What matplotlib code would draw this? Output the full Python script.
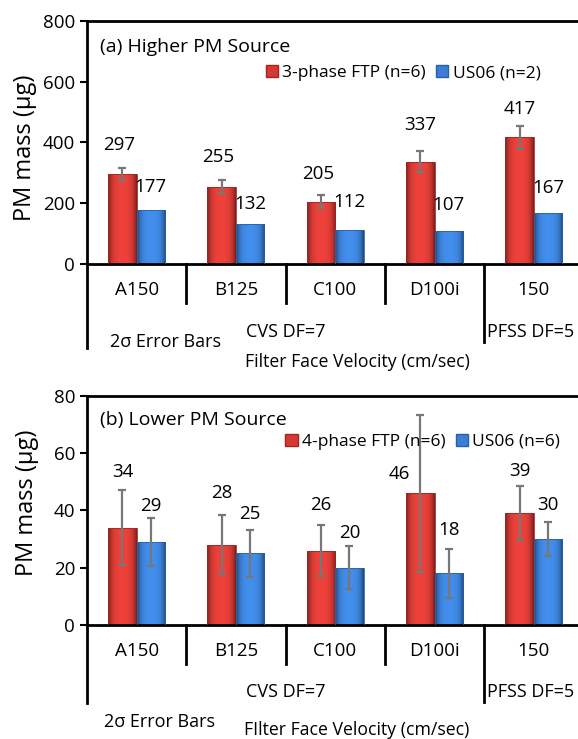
import matplotlib
matplotlib.use("Agg")
import matplotlib.pyplot as plt
import matplotlib.transforms as mtransforms
from matplotlib.patches import Patch
import numpy as np

plt.rcParams['font.family'] = ['Open Sans', 'DejaVu Sans']

categories = ['A150', 'B125', 'C100', 'D100i', '150']

# (a) higher PM source
ftp3_mass = [297, 255, 205, 337, 417]
ftp3_err = [20, 22, 22, 35, 38]
us06_a_mass = [177, 132, 112, 107, 167]

# (b) lower PM source
ftp4_mass = [34, 28, 26, 46, 39]
ftp4_err = [13, 10.3, 8.9, 27.4, 9.4]
us06_b_mass = [29, 25, 20, 18, 30]
us06_b_err = [8.5, 8.3, 7.5, 8.6, 5.8]

RED = '#d43a34'
BLUE = '#3b7fd4'


def shade(bars, base):
    # fake the Excel 3-D look with a horizontal gradient clipped to each bar
    rgb = np.array(matplotlib.colors.to_rgb(base))
    t = np.linspace(-1, 1, 64)
    k = 1 - 0.45 * t**4 + 0.12 * (1 - t**2)
    grad = np.clip(rgb[None, :] * k[:, None], 0, 1)[None, :, :]
    for b in bars:
        x0, y0 = b.get_x(), b.get_y()
        w, h = b.get_width(), b.get_height()
        im = b.axes.imshow(grad, extent=[x0, x0 + w, y0, y0 + h],
                           aspect='auto', zorder=2, interpolation='bilinear')
        im.set_clip_path(b)
        b.set_facecolor('none')


def panel(ax, a_vals, a_err, b_vals, b_err, ymax, a_name, b_name, title,
          a_off, b_off, a_dx, legend_xy, y_lo, xl_text, xl_y, eb_x, eb_y):
    x = np.arange(len(categories)) + 0.5
    w = 0.287
    ek = dict(ecolor='#777777', elinewidth=1.6, capsize=3, capthick=1.6)
    b1 = ax.bar(x - w / 2, a_vals, w, color=RED, edgecolor='#a82420', lw=0.6,
                yerr=a_err, error_kw=ek, zorder=3)
    b2 = ax.bar(x + w / 2, b_vals, w, color=BLUE, edgecolor='#2760a8', lw=0.6,
                yerr=b_err, error_kw=ek, zorder=3)
    shade(b1, RED)
    shade(b2, BLUE)

    for i in range(len(categories)):
        ax.annotate(str(a_vals[i]), (x[i] - w / 2, a_vals[i]), xytext=(a_dx[i], a_off[i]),
                    textcoords='offset pixels', ha='center', va='center', fontsize=13.5)
        ax.annotate(str(b_vals[i]), (x[i] + w / 2, b_vals[i]), xytext=(0, b_off[i]),
                    textcoords='offset pixels', ha='center', va='center', fontsize=13.5)

    ax.set_xlim(0, 4.945)
    ax.set_ylim(0, ymax)
    ax.set_yticks(np.linspace(0, ymax, 5))
    ax.set_xticks([])
    ax.tick_params(axis='y', labelsize=13.5, width=1.5, length=5, direction='out')
    for s in ['left', 'top', 'bottom']:
        ax.spines[s].set_linewidth(2)
    ax.spines['right'].set_visible(False)

    ax.text(0.026, 0.895, title, transform=ax.transAxes, fontsize=14, va='center')
    handles = [Patch(facecolor=RED, edgecolor='#a82420', label=a_name),
               Patch(facecolor=BLUE, edgecolor='#2760a8', label=b_name)]
    ax.legend(handles=handles, loc='center left', bbox_to_anchor=legend_xy, ncol=2,
              frameon=False, fontsize=12.5, handlelength=0.7, handleheight=0.7,
              handletextpad=0.25, columnspacing=0.6, borderaxespad=0)

    tr = mtransforms.blended_transform_factory(ax.transData, ax.transAxes)
    lk = dict(color='black', lw=2, transform=tr, clip_on=False)
    ax.plot([0, 0], [0, y_lo[0]], **lk)
    for sep in [1, 2, 3]:
        ax.plot([sep, sep], [0, y_lo[1]], **lk)
    ax.plot([4, 4], [0, y_lo[2]], **lk)
    for i, c in enumerate(categories):
        ax.text(x[i], y_lo[3], c, transform=tr, ha='center', va='center', fontsize=13.5)
    ax.text(2.0, y_lo[4], 'CVS DF=7', transform=tr, ha='center', va='center', fontsize=13)
    ax.text(4.47, y_lo[4], 'PFSS DF=5', transform=tr, ha='center', va='center', fontsize=13)
    ax.text(eb_x, eb_y, '2σ Error Bars', transform=tr, ha='center', va='center', fontsize=13)
    ax.text(2.72, xl_y, xl_text, transform=tr, ha='center', va='center', fontsize=12.7)


fig = plt.figure(figsize=(5.78, 7.39), dpi=100)
ax1 = fig.add_axes([0.1505, 0.6428, 0.8495, 0.3288])
ax2 = fig.add_axes([0.1505, 0.1543, 0.8495, 0.3099])

panel(ax1, ftp3_mass, ftp3_err, us06_a_mass, None, 800,
      '3-phase FTP (n=6)', 'US06 (n=2)', '(a) Higher PM Source',
      [29, 30, 28, 37, 28], [23, 20, 28, 26, 25], [-3, -3, -3, 0, 0], (0.35, 0.785),
      [-0.346, -0.16, -0.32, -0.107, -0.28],
      'Filter Face Velocity (cm/sec)', -0.403, 0.79, -0.32)
panel(ax2, ftp4_mass, ftp4_err, us06_b_mass, us06_b_err, 80,
      '4-phase FTP (n=6)', 'US06 (n=6)', '(b) Lower PM Source',
      [56, 52, 46, 19, 42], [36, 39, 35, 43, 34], [0, 0, 0, -21, 0], (0.39, 0.80),
      [-0.34, -0.17, -0.336, -0.114, -0.293],
      'FIlter Face Velocity (cm/sec)', -0.459, 0.735, -0.424)

fig.text(0.043, 0.80, 'PM mass (µg)', rotation=90, ha='center', va='center', fontsize=17)
fig.text(0.047, 0.32, 'PM mass (µg)', rotation=90, ha='center', va='center', fontsize=17)

fig.savefig('out.png', dpi=100)
